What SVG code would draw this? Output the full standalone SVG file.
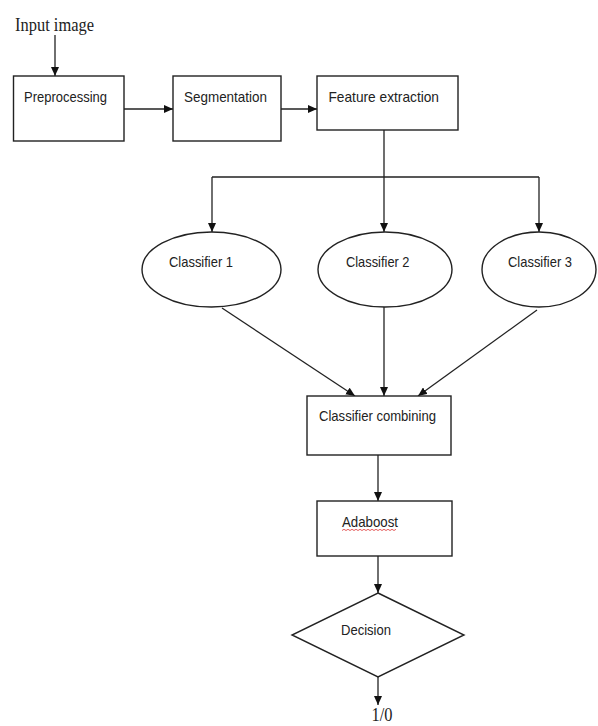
<svg xmlns="http://www.w3.org/2000/svg" width="598" height="726" viewBox="0 0 598 726">
<style>
.shape{fill:#fff;stroke:#222;stroke-width:1.4}
.lbl{font-family:"Liberation Sans",Arial,sans-serif;font-size:15px;fill:#222}
.ser{font-family:"Liberation Serif","Times New Roman",serif;font-size:18px;fill:#222}
.con{fill:none;stroke:#222;stroke-width:1.3}
</style>
<defs>
<marker id="ah" markerUnits="userSpaceOnUse" markerWidth="9" markerHeight="8" refX="9" refY="4" orient="auto">
<path d="M0,0 L9,4 L0,8 z" fill="#111"/>
</marker>
</defs>
<rect width="598" height="726" fill="#fff"/>
<g id="connectors">
<path class="con" d="M55,35 L55,76" marker-end="url(#ah)"/>
<path class="con" d="M124,109 L173,109" marker-end="url(#ah)"/>
<path class="con" d="M281,109 L317,109" marker-end="url(#ah)"/>
<path class="con" d="M384,130 L384,177 M212,177 L539,177"/>
<path class="con" d="M212,177 L212,232" marker-end="url(#ah)"/>
<path class="con" d="M384,177 L384,232" marker-end="url(#ah)"/>
<path class="con" d="M539,177 L539,232" marker-end="url(#ah)"/>
<path class="con" d="M222,308 L355,396" marker-end="url(#ah)"/>
<path class="con" d="M384,307 L384,396" marker-end="url(#ah)"/>
<path class="con" d="M537,310 L418,396" marker-end="url(#ah)"/>
<path class="con" d="M378,455 L378,501" marker-end="url(#ah)"/>
<path class="con" d="M378,556 L378,593" marker-end="url(#ah)"/>
<path class="con" d="M378,677 L378,705" marker-end="url(#ah)"/>
</g>
<g id="input"><text class="ser" x="15" y="30.5" textLength="79" lengthAdjust="spacingAndGlyphs">Input image</text></g>
<g id="preprocessing"><rect class="shape" x="13.5" y="76" width="110.5" height="65"/><text class="lbl" x="24" y="101.7" textLength="83" lengthAdjust="spacingAndGlyphs">Preprocessing</text></g>
<g id="segmentation"><rect class="shape" x="173" y="76" width="108" height="65"/><text class="lbl" x="184" y="101.7" textLength="83" lengthAdjust="spacingAndGlyphs">Segmentation</text></g>
<g id="feature"><rect class="shape" x="317" y="76" width="141" height="54"/><text class="lbl" x="328.5" y="101.5" textLength="110.5" lengthAdjust="spacingAndGlyphs">Feature extraction</text></g>
<g id="classifier1"><ellipse class="shape" cx="211.5" cy="269.5" rx="69.5" ry="37.5"/><text class="lbl" x="169" y="267" textLength="64" lengthAdjust="spacingAndGlyphs">Classifier 1</text></g>
<g id="classifier2"><ellipse class="shape" cx="385" cy="269.5" rx="67" ry="37.5"/><text class="lbl" x="346" y="267" textLength="63.5" lengthAdjust="spacingAndGlyphs">Classifier 2</text></g>
<g id="classifier3"><ellipse class="shape" cx="539" cy="269.5" rx="57" ry="37.5"/><text class="lbl" x="508" y="267" textLength="64" lengthAdjust="spacingAndGlyphs">Classifier 3</text></g>
<g id="combining"><rect class="shape" x="307" y="396" width="144" height="59"/><text class="lbl" x="319" y="420.5" textLength="117" lengthAdjust="spacingAndGlyphs">Classifier combining</text></g>
<g id="adaboost"><rect class="shape" x="317" y="501" width="135" height="55"/><text class="lbl" x="342" y="527" textLength="56" lengthAdjust="spacingAndGlyphs">Adaboost</text>
<path d="M342,530.5 l2,-1.2 l2,1.2 l2,-1.2 l2,1.2 l2,-1.2 l2,1.2 l2,-1.2 l2,1.2 l2,-1.2 l2,1.2 l2,-1.2 l2,1.2 l2,-1.2 l2,1.2 l2,-1.2 l2,1.2 l2,-1.2 l2,1.2 l2,-1.2 l2,1.2 l2,-1.2 l2,1.2 l2,-1.2 l2,1.2 l2,-1.2 l2,1.2 l2,-1.2" fill="none" stroke="#d33" stroke-width="0.8"/></g>
<g id="decision"><polygon class="shape" points="378,593 464,635 378,677 292,635"/><text class="lbl" x="341" y="635" textLength="50" lengthAdjust="spacingAndGlyphs">Decision</text></g>
<g id="output"><text class="ser" x="371.5" y="721" textLength="21" lengthAdjust="spacingAndGlyphs">1/0</text></g>
</svg>
